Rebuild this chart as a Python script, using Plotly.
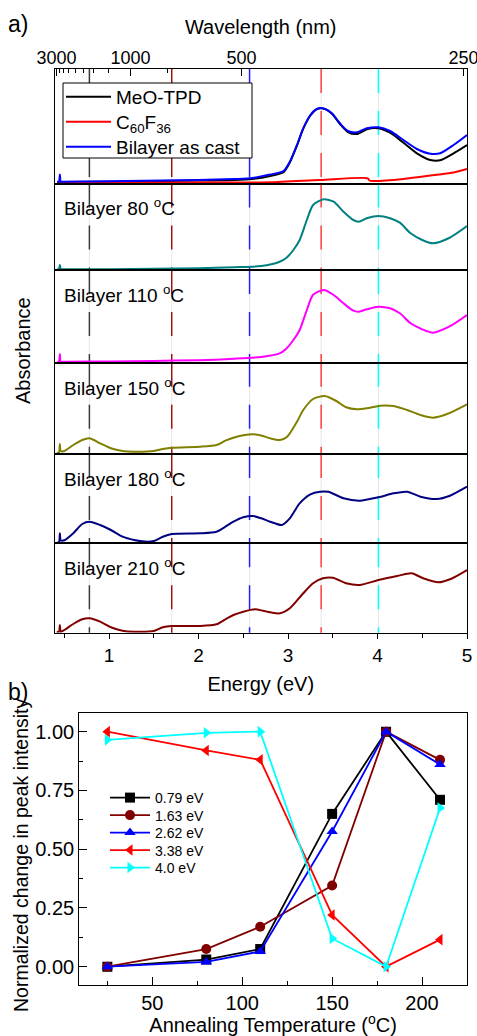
import plotly.graph_objects as go

W, H = 477, 1036
FONT = "Liberation Sans, Arial, sans-serif"

# ---------------- Panel a data (energy in eV, absorbance in arb. units) ----------------
E_cast = [0.42, 0.44, 0.45, 0.46, 0.48, 0.8, 1.2, 1.6, 2.0, 2.4, 2.6, 2.8, 2.95, 3.02, 3.10, 3.17, 3.25,
          3.32, 3.39, 3.49, 3.58, 3.67, 3.77, 3.88, 4.01, 4.14, 4.29, 4.44, 4.59, 4.70, 4.85, 5.0]
A_meo = [0.015, 0.015, 0.015, 0.015, 0.015, 0.017, 0.02, 0.025, 0.03, 0.035, 0.045, 0.075, 0.112, 0.21,
         0.38, 0.548, 0.68, 0.742, 0.75, 0.698, 0.595, 0.515, 0.495, 0.542, 0.552, 0.508, 0.408, 0.302,
         0.235, 0.232, 0.302, 0.385]
A_cast = [0.018, 0.018, 0.09, 0.018, 0.018, 0.02, 0.025, 0.03, 0.035, 0.045, 0.055, 0.09, 0.125, 0.218,
          0.385, 0.552, 0.685, 0.745, 0.752, 0.702, 0.602, 0.525, 0.512, 0.552, 0.562, 0.525, 0.435,
          0.345, 0.298, 0.302, 0.385, 0.485]
E_c60 = [0.42, 1.0, 2.0, 2.8, 3.36, 3.89, 3.91, 3.95, 4.29, 4.64, 4.85, 5.0]
A_c60 = [0.01, 0.01, 0.01, 0.012, 0.035, 0.052, 0.03, 0.025, 0.045, 0.085, 0.11, 0.145]

E_80 = [0.42, 0.44, 0.45, 0.46, 0.5, 1.0, 1.5, 2.0, 2.4, 2.7, 2.9, 2.98, 3.06, 3.13, 3.21, 3.28, 3.40,
        3.51, 3.62, 3.73, 3.79, 3.88, 4.01, 4.14, 4.25, 4.37, 4.5, 4.62, 4.8, 5.0]
A_80 = [0.01, 0.01, 0.05, 0.01, 0.008, 0.008, 0.012, 0.018, 0.028, 0.04, 0.08, 0.12, 0.2, 0.30, 0.50,
        0.65, 0.707, 0.683, 0.583, 0.50, 0.483, 0.517, 0.54, 0.517, 0.473, 0.367, 0.30, 0.267, 0.32, 0.44]

E_110 = E_80
A_110 = [0.01, 0.01, 0.087, 0.01, 0.01, 0.013, 0.018, 0.025, 0.04, 0.058, 0.09, 0.14, 0.227, 0.327,
         0.527, 0.68, 0.727, 0.677, 0.594, 0.52, 0.51, 0.534, 0.56, 0.544, 0.494, 0.394, 0.334, 0.30,
         0.36, 0.477]

E_150 = [0.415, 0.44, 0.45, 0.46, 0.5, 0.6, 0.7, 0.78, 0.9, 1.02, 1.15, 1.28, 1.5, 1.6, 1.70, 2.02,
         2.2, 2.3, 2.39, 2.5, 2.61, 2.70, 2.80, 2.91, 2.99, 3.10, 3.17, 3.28, 3.41, 3.54, 3.65, 3.77,
         3.88, 4.03, 4.18, 4.33, 4.48, 4.62, 4.77, 5.0]
A_150 = [0.01, 0.015, 0.10, 0.03, 0.03, 0.09, 0.14, 0.157, 0.107, 0.057, 0.03, 0.023, 0.03, 0.05,
         0.063, 0.073, 0.09, 0.133, 0.163, 0.187, 0.197, 0.185, 0.157, 0.14, 0.173, 0.323, 0.44, 0.55,
         0.58, 0.53, 0.467, 0.447, 0.457, 0.483, 0.48, 0.44, 0.39, 0.363, 0.397, 0.497]

E_180 = [0.415, 0.44, 0.45, 0.46, 0.5, 0.6, 0.7, 0.78, 0.9, 1.02, 1.15, 1.28, 1.4, 1.5, 1.6, 1.70,
         2.02, 2.2, 2.3, 2.39, 2.5, 2.61, 2.70, 2.80, 2.93, 3.02, 3.13, 3.25, 3.36, 3.45, 3.62, 3.80,
         4.01, 4.18, 4.33, 4.48, 4.66, 4.81, 5.0]
A_180 = [0.006, 0.01, 0.10, 0.03, 0.03, 0.10, 0.193, 0.216, 0.183, 0.133, 0.066, 0.033, 0.017, 0.023,
         0.066, 0.093, 0.10, 0.116, 0.166, 0.216, 0.26, 0.273, 0.25, 0.216, 0.183, 0.25, 0.40, 0.49,
         0.516, 0.516, 0.45, 0.426, 0.46, 0.50, 0.516, 0.466, 0.443, 0.476, 0.566]

E_210 = [0.415, 0.44, 0.45, 0.46, 0.5, 0.6, 0.7, 0.78, 0.9, 1.02, 1.15, 1.28, 1.5, 1.6, 1.70, 2.02,
         2.2, 2.3, 2.39, 2.5, 2.63, 2.72, 2.80, 2.91, 3.02, 3.17, 3.28, 3.39, 3.50, 3.65, 3.80, 4.01,
         4.22, 4.38, 4.51, 4.68, 4.81, 5.0]
A_210 = [0.01, 0.01, 0.077, 0.01, 0.027, 0.087, 0.134, 0.144, 0.11, 0.054, 0.02, 0.01, 0.017, 0.054,
         0.067, 0.067, 0.084, 0.134, 0.177, 0.21, 0.234, 0.22, 0.204, 0.194, 0.244, 0.394, 0.494,
         0.544, 0.55, 0.494, 0.477, 0.527, 0.567, 0.594, 0.544, 0.504, 0.534, 0.627]

panel_labels = ["", "Bilayer 80 <sup>o</sup>C", "Bilayer 110 <sup>o</sup>C", "Bilayer 150 <sup>o</sup>C",
                "Bilayer 180 <sup>o</sup>C", "Bilayer 210 <sup>o</sup>C"]
marker_E = [0.78, 1.70, 2.57, 3.37, 4.01]
marker_colors = ["#3a3a3a", "#a01010", "#2020ff", "#ff4040", "#00ffff"]

wl_major = [3000, 1000, 500, 250]
wl_minor = [2750, 2500, 2250, 2000, 1750, 1500, 1250, 750]

# ---------------- Panel b data ----------------
T = [25, 80, 110, 150, 180, 210]
I_079 = [0.0, 0.03, 0.075, 0.65, 1.0, 0.71]
I_163 = [0.0, 0.075, 0.17, 0.345, 1.0, 0.88]
I_262 = [0.0, 0.02, 0.065, 0.575, 1.0, 0.86]
I_338 = [1.0, 0.92, 0.88, 0.22, 0.0, 0.115]
I_400 = [0.965, 0.995, 1.0, 0.12, 0.0, 0.675]

# ---------------- layout geometry (pixels) ----------------
def px_y(y):
    return 1 - y / H

ax_l, ax_r = 54.5 / W, 467 / W
bounds = [69, 183.5, 270, 362.7, 454, 543.3, 632.7]
b_l, b_r, b_t, b_b = 79.3 / W, 467 / W, 713.3, 985
legA_y = [97, 122, 147]
legB_y = [798, 815.5, 833, 850.5, 868]

fig = go.Figure()

spectra = [
    [("MeO-TPD", E_cast, A_meo, "black"), ("C<sub>60</sub>F<sub>36</sub>", E_c60, A_c60, "#ff0000"),
     ("Bilayer as cast", E_cast, A_cast, "#0000ff")],
    [(None, E_80, A_80, "#008080")],
    [(None, E_110, A_110, "#ff00ff")],
    [(None, E_150, A_150, "#808000")],
    [(None, E_180, A_180, "#000080")],
    [(None, E_210, A_210, "#800000")],
]

shapes = []
annotations = []
legends = {}
leg_idx = 1
for i, group in enumerate(spectra):
    n = i + 1
    xa = "x" if n == 1 else f"x{n}"
    ya = "y" if n == 1 else f"y{n}"
    for name, ex, ay, col in group:
        lg = None
        if name is not None:
            lg = "legend" if leg_idx == 1 else f"legend{leg_idx}"
            legends[lg] = dict(x=61 / W, y=px_y(legA_y[leg_idx - 1]), xanchor="left", yanchor="middle",
                               bgcolor="rgba(0,0,0,0)", borderwidth=0, itemwidth=45,
                               font=dict(size=19, family=FONT, color="black"))
            leg_idx += 1
        fig.add_trace(go.Scatter(x=ex, y=ay, mode="lines", name=name or "",
                                 showlegend=name is not None, legend=lg or "legend",
                                 line=dict(color=col, width=2, shape="spline", smoothing=0.7),
                                 xaxis=xa, yaxis=ya))
    hpx = bounds[i + 1] - bounds[i]
    lay_x = "xaxis" if n == 1 else f"xaxis{n}"
    lay_y = "yaxis" if n == 1 else f"yaxis{n}"
    last = n == 6
    fig.layout[lay_x] = dict(domain=[ax_l, ax_r], range=[0.39, 5.0], anchor=ya, automargin=False,
                             showline=True, mirror=True, linecolor="black", linewidth=1.3,
                             showgrid=False, zeroline=False,
                             ticks="outside" if last else "", showticklabels=last,
                             tickvals=[1, 2, 3, 4, 5] if last else None, ticklen=5,
                             tickcolor="black", tickwidth=1.3,
                             minor=dict(tickvals=[0.5, 1.5, 2.5, 3.5, 4.5], ticks="outside",
                                        ticklen=4, tickcolor="black", tickwidth=1.3) if last else None,
                             tickfont=dict(size=19, color="black", family=FONT),
                             title=dict(text="Energy (eV)", font=dict(size=20, family=FONT, color="black"),
                                        standoff=12) if last else None)
    fig.layout[lay_y] = dict(domain=[px_y(bounds[i + 1]), px_y(bounds[i])], range=[0, hpx / 100],
                             anchor=xa, automargin=False, showline=True, mirror=True, linecolor="black",
                             linewidth=1.3, showgrid=False, zeroline=False, showticklabels=False, ticks="")
    for e, c in zip(marker_E, marker_colors):
        shapes.append(dict(type="line", xref=xa, yref=f"{ya} domain", x0=e, x1=e, y0=1, y1=0,
                           line=dict(color="#e6e6e6", width=1), layer="below"))
        shapes.append(dict(type="line", xref=xa, yref=f"{ya} domain", x0=e, x1=e, y0=1, y1=0,
                           line=dict(color=c, width=1.5, dash="24px,18px"), layer="below"))
    if panel_labels[i]:
        annotations.append(dict(text=panel_labels[i], xref="paper", yref="paper",
                                x=62 / W, y=px_y(bounds[i] + 24), xanchor="left", yanchor="middle",
                                showarrow=False, font=dict(size=19, family=FONT, color="black")))

# legend frame of panel a
shapes.append(dict(type="rect", xref="paper", yref="paper", x0=63 / W, x1=252 / W,
                   y0=px_y(158), y1=px_y(83), fillcolor="white", line=dict(color="black", width=1),
                   layer="above"))

# top wavelength axis
fig.add_trace(go.Scatter(x=[1240 / w for w in wl_major], y=[None] * len(wl_major), mode="markers",
                         showlegend=False, hoverinfo="skip", xaxis="x7", yaxis="y"))
fig.layout["xaxis7"] = dict(overlaying="x", side="top", anchor="y", range=[0.39, 5.0], automargin=False,
                            tickvals=[1240 / w for w in wl_major], ticktext=[str(w) for w in wl_major],
                            ticks="inside", ticklen=7, tickcolor="black", tickwidth=1.3,
                            ticklabeloverflow="allow",
                            minor=dict(tickvals=[1240 / w for w in wl_minor], ticks="inside", ticklen=4,
                                       tickcolor="black", tickwidth=1.3),
                            showgrid=False, zeroline=False, showline=False,
                            tickfont=dict(size=18, color="black", family=FONT),
                            title=dict(text="Wavelength (nm)", font=dict(size=20, family=FONT, color="black"),
                                       standoff=8))

# ---------------- Panel b ----------------
series_b = [("0.79 eV", I_079, "black", "square"), ("1.63 eV", I_163, "#800000", "circle"),
            ("2.62 eV", I_262, "#0000ff", "triangle-up"), ("3.38 eV", I_338, "#ff0000", "triangle-left"),
            ("4.0 eV", I_400, "#00ffff", "triangle-right")]
for k, (name, vals, col, sym) in enumerate(series_b):
    lg = f"legend{leg_idx}"
    legends[lg] = dict(x=105 / W, y=px_y(legB_y[k]), xanchor="left", yanchor="middle",
                       bgcolor="rgba(0,0,0,0)", borderwidth=0, itemwidth=40,
                       font=dict(size=14, family=FONT, color="black"))
    leg_idx += 1
    fig.add_trace(go.Scatter(x=T, y=vals, mode="lines+markers", name=name, legend=lg,
                             line=dict(color=col, width=1.8),
                             marker=dict(symbol=sym, size=10, color=col),
                             xaxis="x8", yaxis="y8"))
fig.layout["xaxis8"] = dict(domain=[b_l, b_r], range=[9.4, 225], anchor="y8", automargin=False,
                            showline=True, mirror=True, linecolor="black", linewidth=1.3,
                            showgrid=False, zeroline=False, ticks="inside", ticklen=8,
                            tickcolor="black", tickwidth=1.3, tickvals=[50, 100, 150, 200],
                            minor=dict(tickvals=[25, 75, 125, 175, 225], ticks="inside", ticklen=4,
                                       tickcolor="black", tickwidth=1.3),
                            tickfont=dict(size=20, color="black", family=FONT),
                            title=dict(text="Annealing Temperature (<sup>o</sup>C)",
                                       font=dict(size=20, family=FONT, color="black"), standoff=4))
fig.layout["yaxis8"] = dict(domain=[px_y(b_b), px_y(b_t)], range=[-0.078, 1.078], anchor="x8",
                            automargin=False,
                            showline=True, mirror=True, linecolor="black", linewidth=1.3,
                            showgrid=False, zeroline=False, ticks="inside", ticklen=8,
                            tickcolor="black", tickwidth=1.3, tickvals=[0, 0.25, 0.5, 0.75, 1.0],
                            ticktext=["0.00", "0.25", "0.50", "0.75", "1.00"],
                            minor=dict(tickvals=[0.125, 0.375, 0.625, 0.875], ticks="inside", ticklen=4,
                                       tickcolor="black", tickwidth=1.3),
                            tickfont=dict(size=20, color="black", family=FONT))

annotations += [
    dict(text="a)", xref="paper", yref="paper", x=6 / W, y=px_y(24), xanchor="left", yanchor="middle",
         showarrow=False, font=dict(size=23, family=FONT, color="black")),
    dict(text="b)", xref="paper", yref="paper", x=6 / W, y=px_y(692), xanchor="left", yanchor="middle",
         showarrow=False, font=dict(size=23, family=FONT, color="black")),
    dict(text="Absorbance", xref="paper", yref="paper", x=23 / W, y=px_y(351), textangle=-90,
         xanchor="center", yanchor="middle", showarrow=False,
         font=dict(size=20, family=FONT, color="black")),
    dict(text="Normalized change in peak intensity", xref="paper", yref="paper", x=21 / W,
         y=px_y(855), textangle=-90, xanchor="center", yanchor="middle", showarrow=False,
         font=dict(size=19.5, family=FONT, color="black")),
]

fig.update_layout(
    width=W, height=H, margin=dict(l=0, r=0, t=0, b=0, autoexpand=False),
    paper_bgcolor="white", plot_bgcolor="white",
    font=dict(family=FONT, color="black"),
    shapes=shapes, annotations=annotations,
    **legends,
)

fig.write_html("out.html", config={"displayModeBar": False},
               post_script="document.body.style.margin='0px';")
